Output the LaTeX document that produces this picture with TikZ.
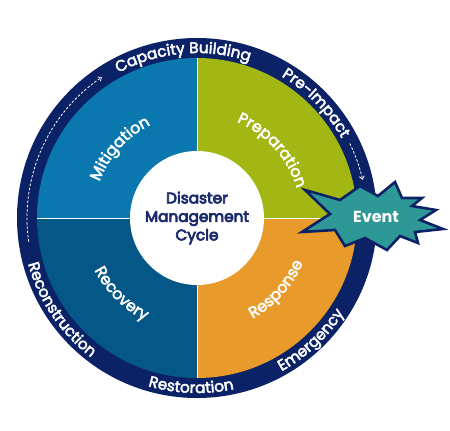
\documentclass[tikz,border=0pt]{standalone}
\usepackage{fontspec}
\setmainfont{Poppins}
\newcommand\heavyink[1]{\special{pdf:literal direct 2 Tr #1 w}}
\usetikzlibrary{decorations.text,arrows.meta}
\definecolor{navy}{HTML}{0C2266}
\definecolor{mitblue}{HTML}{0A77AF}
\definecolor{prepgreen}{HTML}{A2B714}
\definecolor{recblue}{HTML}{045786}
\definecolor{resporange}{HTML}{E89B2A}
\definecolor{eventteal}{HTML}{2E9896}
\definecolor{textnavy}{HTML}{1C2B6C}
\tikzset{
  ringtext/.style={decorate, decoration={text along path, text={|\heavyink{0.45}\fontsize{15.3}{15.3}\selectfont|#1}, text align=center, text color=white}},
  quadtext/.style={decorate, decoration={text along path, text={|\heavyink{0.45}\fontsize{15.8}{15.8}\selectfont|#1}, text align=center, text color=white}},
  dasharrow/.style={draw=white, line width=0.8pt, dash pattern=on 2.5pt off 1.8pt, -{Straight Barb[length=3pt,width=5pt]}},
  sepline/.style={draw=white, line width=0.8pt}
}
\begin{document}
\begin{tikzpicture}[x=1pt,y=1pt]
\useasboundingbox (0,0) rectangle (450,-431);
\coordinate (C) at (197,-218);
% outer ring
\node[circle, fill=navy, minimum size=360pt, inner sep=0pt] (ring) at (C) {};
% quadrants
\fill[mitblue] (C) -- ++(180:160) arc[start angle=180, end angle=90, radius=160pt] -- cycle;
\fill[prepgreen] (C) -- ++(90:160) arc[start angle=90, end angle=0, radius=160pt] -- cycle;
\fill[resporange] (C) -- ++(0:160) arc[start angle=0, end angle=-90, radius=160pt] -- cycle;
\fill[recblue] (C) -- ++(-90:160) arc[start angle=-90, end angle=-180, radius=160pt] -- cycle;
\path[sepline] (C) ++(-160,0) -- ++(320,0);
\path[sepline] (C) ++(0,-160) -- ++(0,320);
% centre
\node[circle, fill=white, minimum size=134pt, inner sep=0pt, align=center, text=textnavy,
      font=\heavyink{0.75}\fontsize{15.3}{18.5}\selectfont] (centre) at (C) {Disaster\\Management\\Cycle};
% quadrant labels
\path[quadtext=Mitigation] (C) ++(183:104) arc[start angle=183, end angle=93, radius=104pt];
\path[quadtext=Preparation] (C) ++(92:104) arc[start angle=92, end angle=-8, radius=104pt];
\path[quadtext=Recovery] (C) ++(180:115) arc[start angle=180, end angle=270, radius=115pt];
\path[quadtext=Response] (C) ++(273:115) arc[start angle=273, end angle=363, radius=115pt];
% ring labels
\path[ringtext=Capacity Building] (C) ++(140:165) arc[start angle=140, end angle=50, radius=165pt];
\path[ringtext=Pre-Impact] (C) ++(80:165) arc[start angle=80, end angle=8, radius=165pt];
\path[ringtext=Reconstruction] (C) ++(170:175) arc[start angle=170, end angle=258, radius=175pt];
\path[ringtext=Restoration] (C) ++(232:175) arc[start angle=232, end angle=304, radius=175pt];
\path[ringtext=Emergency] (C) ++(277:175) arc[start angle=277, end angle=349, radius=175pt];
% dashed arrows
\path[dasharrow] (C) ++(188:170) arc[start angle=188, end angle=124, radius=170pt];
\path[dasharrow] (C) ++(26:170) arc[start angle=26, end angle=13, radius=170pt];
% event star
\draw[navy, fill=eventteal, line width=2.6pt, line join=miter, miter limit=20]
  (443,-229) -- (420,-220) -- (436,-210) -- (412,-206) -- (422,-198) -- (402,-198)
  -- (395,-182) -- (378,-196) -- (360,-186) -- (340,-200) -- (305,-190) -- (330,-214)
  -- (302,-232) -- (335,-230) -- (345,-246) -- (365,-238) -- (387,-250) -- (400,-236)
  -- (418,-243) -- (415,-232) -- cycle;
\node[text=white, font=\bfseries\fontsize{16}{16}\selectfont, inner sep=0pt] (event) at (376,-217) {Event};
\end{tikzpicture}
\end{document}
